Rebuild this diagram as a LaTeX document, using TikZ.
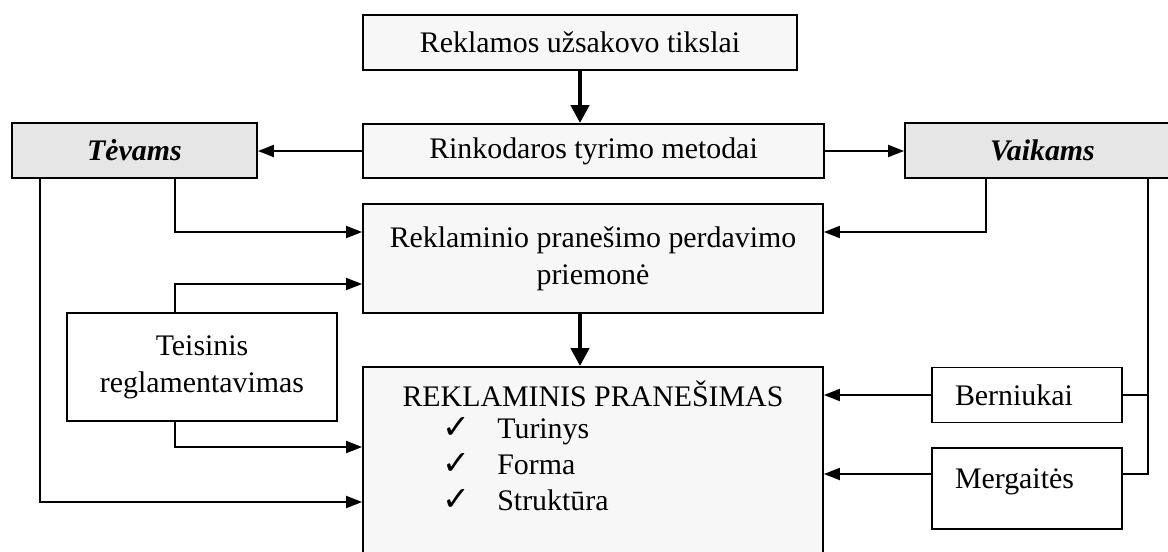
\documentclass[tikz,border=0pt]{standalone}
\usepackage{fontspec}
\setmainfont{Liberation Serif}
\newfontfamily\checkfont{DejaVu Sans}
\usetikzlibrary{arrows.meta}
\definecolor{lightfill}{RGB}{247,247,247}
\definecolor{greyfill}{RGB}{230,230,230}

\begin{document}
\begin{tikzpicture}[x=0.02cm, y=-0.02cm,
    font=\fontsize{17}{21}\selectfont,
    box/.style={draw, line width=1.1pt, inner sep=0pt, fill=lightfill, align=center},
    txt/.style={inner sep=0pt},
    tick/.style={txt, anchor=base west, font=\checkfont\fontsize{19}{21}\selectfont},
    link/.style={line width=1.1pt},
    arrow/.style={link, -{Triangle[length=0.32cm, width=0.24cm]}},
    bigarrow/.style={line width=2.4pt, -{Triangle[length=0.36cm, width=0.36cm]}}]
    \useasboundingbox (0,0) rectangle (1168,551);

    % Middle column
    \node[box, minimum width=8.68cm, minimum height=1.1cm]
      (goal) at (580,42.5) {Reklamos užsakovo tikslai};
    \node[box, minimum width=9.22cm, minimum height=1.08cm]
      (method) at (593.5,151) {Rinkodaros tyrimo metodai};
    \node[box, minimum width=9.2cm, minimum height=2.18cm]
      (channel) at (593,258.5) {Reklaminio pranešimo perdavimo\\priemonė};
    \node[box, minimum width=9.2cm, minimum height=4.26cm]
      (msg) at (593,473.5) {};

    % Contents of the message box
    \node[txt, anchor=base] (msgtitle) at (593,406) {REKLAMINIS PRANEŠIMAS};
    \node[tick] (tick1) at (442,438) {✓};
    \node[txt, anchor=base west] (content) at (497,438) {Turinys};
    \node[tick] (tick2) at (442,474) {✓};
    \node[txt, anchor=base west] (form) at (497,474) {Forma};
    \node[tick] (tick3) at (442,510) {✓};
    \node[txt, anchor=base west] (structure) at (497,510) {Struktūra};

    % Audiences
    \node[box, fill=greyfill, minimum width=4.9cm, minimum height=1.1cm]
      (parents) at (134.5,150.5) {\bfseries\itshape Tėvams};
    \node[box, fill=greyfill, minimum width=5.5cm, minimum height=1.1cm]
      (kids) at (1042.5,150.5) {\bfseries\itshape Vaikams};

    % Side boxes
    \node[box, fill=white, minimum width=5.4cm, minimum height=2.16cm]
      (law) at (202,367) {Teisinis\\reglamentavimas};
    \node[box, fill=white, minimum width=3.8cm, minimum height=1.1cm, text width=2.88cm, align=left]
      (boys) at (1027,395) {Berniukai};
    \node[box, fill=white, minimum width=3.8cm, minimum height=1.62cm, text width=2.88cm, align=left,
      text height=12pt, text depth=12pt]
      (girls) at (1027,488.5) {Mergaitės};

    % Main flow
    \draw[bigarrow] (goal.south) -- (goal.south |- method.north);
    \draw[bigarrow] ([xshift=-0.26cm]channel.south) -- ([xshift=-0.26cm]channel.south |- msg.north);
    \draw[arrow] (method.west) -- (method.west -| parents.east);
    \draw[arrow] (method.east) -- (method.east -| kids.west);

    % From parents
    \draw[arrow] ([xshift=0.81cm]parents.south) |- ([yshift=0.53cm]channel.west);
    \draw[arrow] ([xshift=-1.89cm]parents.south) |- ([yshift=-0.57cm]msg.west);

    % Legal regulation
    \draw[arrow] ([xshift=-0.54cm]law.north) |- ([yshift=-0.51cm]channel.west);
    \draw[arrow] ([xshift=-0.54cm]law.south) |- ([yshift=0.53cm]msg.west);

    % From children
    \draw[arrow] ([xshift=-1.13cm]kids.south) |- ([yshift=0.53cm]channel.east);
    \coordinate (kidsdrop) at ([xshift=2.11cm]kids.south);
    \draw[link] (kidsdrop) |- ([yshift=0.29cm]girls.east);
    \draw[link] (boys.east) -- (boys.east -| kidsdrop);
    \draw[arrow] (boys.west) -- (boys.west -| msg.east);
    \draw[arrow] ([yshift=0.29cm]girls.west) -- ([yshift=0.29cm]girls.west -| msg.east);
  \end{tikzpicture}
\end{document}
